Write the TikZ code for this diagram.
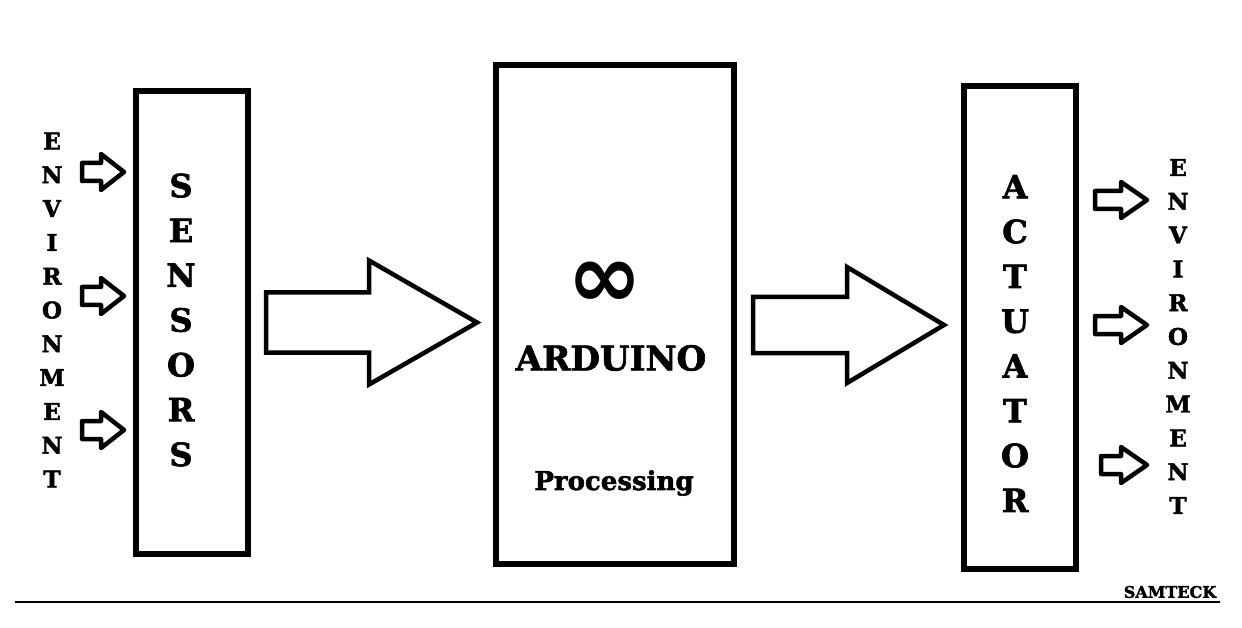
\documentclass[tikz,border=0pt]{standalone}
\usepackage{fontspec}
\setmainfont{DejaVu Serif}[BoldFeatures={FakeBold=2}]
\newfontfamily\symbfont{DejaVu Sans}
\usetikzlibrary{calc}

\tikzset{
  block/.style={draw, line width=6pt, inner sep=0pt},
  fatline/.style={draw, line width=4.5pt, line join=miter},
  thinline/.style={draw, line width=4.5pt, line join=round},
  smallcol/.style={align=center, inner sep=0pt, font=\bfseries\fontsize{23}{33.8}\selectfont},
  bigcol/.style={align=center, inner sep=0pt, font=\bfseries\fontsize{32}{44.8}\selectfont}
}

% block arrow: start, tip, shaft half width, head half width, head length, style
\newcommand\fatarrow[6]{%
  \draw[#6] ($(#1)+(0,-#3)$) -- ($(#2)+(-#5,-#3)$) -- ($(#2)+(-#5,-#4)$) -- (#2)
    -- ($(#2)+(-#5,#4)$) -- ($(#2)+(-#5,#3)$) -- ($(#1)+(0,#3)$) -- cycle;}

\begin{document}
\begin{tikzpicture}[x=1pt,y=-1pt]
    \useasboundingbox (0,0) rectangle (1242,628);
    \fill[white] (0,0) rectangle (1242,628);

    % the three blocks
    \node[block, minimum width=112pt, minimum height=463pt] (sensors) at (192,322.5) {};
    \node[block, minimum width=238pt, minimum height=499pt] (arduino) at (615,314.5) {};
    \node[block, minimum width=112pt, minimum height=483pt] (actuator) at (1020,327.5) {};

    % texts
    \node[smallcol] (envin) at (52,310) {E\\N\\V\\I\\R\\O\\N\\M\\E\\N\\T};
    \node[smallcol] (envout) at (1178,336.5) {E\\N\\V\\I\\R\\O\\N\\M\\E\\N\\T};
    \node[bigcol] (senstext) at (181,320) {S\\E\\N\\S\\O\\R\\S};
    \node[bigcol] (acttext) at (1015,343.5) {A\\C\\T\\U\\A\\T\\O\\R};
    \node[inner sep=0pt, font=\symbfont\bfseries\fontsize{90}{90}\selectfont] (logo) at (605,285) {∞};
    \node[inner sep=0pt, font=\bfseries\fontsize{34}{34}\selectfont] (ardtext) at (611,358) {ARDUINO};
    \node[inner sep=0pt, font=\bfseries\fontsize{26}{26}\selectfont] (proctext) at (614,483) {Processing};
    \node[inner sep=0pt, font=\bfseries\fontsize{16}{16}\selectfont] (samteck) at (1170,592) {SAMTECK};

    % big arrows
    \coordinate (a1s) at ($(sensors.east)+(15,0)$);
    \coordinate (a1t) at ($(a1s -| arduino.west)+(-16,0)$);
    \fatarrow{a1s}{a1t}{30}{62}{108}{fatline}
    \coordinate (a2s) at ($(arduino.east)+(16,10.5)$);
    \coordinate (a2t) at ($(a2s -| actuator.west)+(-17,0)$);
    \fatarrow{a2s}{a2t}{28}{58}{97}{fatline}

    % small arrows in and out
    \foreach \y [count=\i] in {172,296,430} {
      \coordinate (h\i) at (0,\y);
      \coordinate (ins\i) at ($(sensors.west |- h\i)+(-51,0)$);
      \coordinate (int\i) at ($(sensors.west |- h\i)+(-9,0)$);
      \fatarrow{ins\i}{int\i}{9}{18}{23}{thinline}
    }
    \foreach \y/\dx [count=\i] in {200/16,325/16,465/22} {
      \coordinate (g\i) at (0,\y);
      \coordinate (outs\i) at ($(actuator.east |- g\i)+(\dx,0)$);
      \coordinate (outt\i) at ($(actuator.east |- g\i)+(68,0)$);
      \fatarrow{outs\i}{outt\i}{9}{18}{26}{thinline}
    }

    % bottom rule
    \draw[line width=2pt] (15,602) -- (1220,602);
\end{tikzpicture}
\end{document}
